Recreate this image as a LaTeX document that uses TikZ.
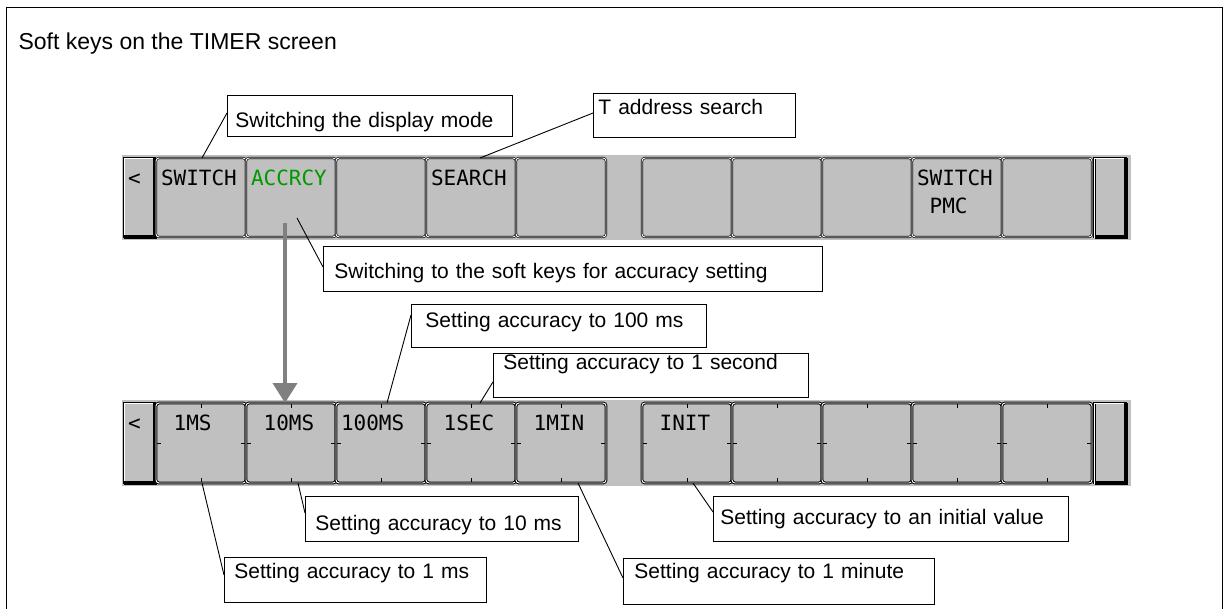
\documentclass[tikz,border=0pt]{standalone}
\usepackage{fontspec}
\setmainfont{Liberation Sans}
\newfontfamily\keyfont{DejaVu Sans Mono}
\usepackage{tikz}
\usetikzlibrary{arrows.meta}
\definecolor{keygray}{HTML}{C0C0C0}
\definecolor{accgreen}{HTML}{009900}
\definecolor{flowgray}{HTML}{808080}
\newcommand{\keygap}{\phantom{0}}

\begin{document}
\begin{tikzpicture}[x=1pt, y=-1pt,
        softkey/.style={rectangle, rounded corners=3pt, fill=keygray, draw=black,
            double=white, double distance=0.9pt, line width=0.7pt,
            text width=80pt, inner xsep=5pt, inner ysep=2pt, outer sep=0pt,
            align=left, text height=25.6pt, text depth=49.4pt,
            font=\keyfont\fontsize{21}{28}\selectfont},
        lowkey/.style={softkey, text depth=50.4pt, line width=1pt,
            path picture={\draw[black, line width=1pt]
                (path picture bounding box.north) -- ++(0pt,-5pt)
                (path picture bounding box.south) -- ++(0pt,5pt)
                (path picture bounding box.west) -- ++(5pt,0pt)
                (path picture bounding box.east) -- ++(-5pt,0pt);}},
        endkey/.style={softkey, rounded corners=0pt, text width=23pt, inner xsep=4pt},
        shade/.style={line width=4pt},
        flow/.style={draw=flowgray, line width=4pt, -{Triangle[width=24pt, length=20pt]}},
        callout/.style={draw, line width=0.9pt, fill=white, anchor=north west,
            inner ysep=0pt, align=left, font=\fontsize{21}{25}\selectfont},
        lead/.style={line width=0.9pt}
    ]
    \useasboundingbox (0,0) rectangle (1228,609);

    % FRAME
    \draw[line width=1pt] (6,615) -- (6,8) -- (1222,8) -- (1222,615);
    \node[anchor=base west, font=\fontsize{23}{28}\selectfont] (title) at (15,50)
        {Soft keys on the TIMER screen};

    % TOP SOFT KEYS
    \fill[keygray] (122,155) rectangle (1131,240);
    \node[endkey] (ltop) at (139.5,197.5) {<};
    \draw[shade] (ltop.north east) -- (ltop.south east) -- (ltop.south west);
    \node[softkey] (sw) at (201,197.5) {SWITCH};
    \node[softkey, text=accgreen] (acc) at (291,197.5) {ACCRCY};
    \node[softkey] (tk3) at (381,197.5) {};
    \node[softkey] (srch) at (471,197.5) {SEARCH};
    \node[softkey] (tk5) at (561,197.5) {};
    \node[softkey] (tk6) at (687,197.5) {};
    \node[softkey] (tk7) at (777,197.5) {};
    \node[softkey] (tk8) at (867,197.5) {};
    \node[softkey] (pmc) at (957,197.5) {SWITCH\\\phantom{S}PMC};
    \node[softkey] (tk10) at (1047,197.5) {};
    \node[endkey] (rtop) at (1110,197.5) {};
    \draw[shade] (rtop.north east) -- (rtop.south east) -- (rtop.south west);

    % BOTTOM SOFT KEYS
    \fill[keygray] (122,400) rectangle (1131,486);
    \node[endkey, text depth=50.4pt] (lbot) at (139.5,443) {<};
    \draw[shade] (lbot.north east) -- (lbot.south east) -- (lbot.south west);
    \node[lowkey] (b1) at (201,443) {\keygap 1MS};
    \node[lowkey] (b10) at (291,443) {\keygap 10MS};
    \node[lowkey] (b100) at (381,443) {100MS};
    \node[lowkey] (b1s) at (471,443) {\keygap 1SEC};
    \node[lowkey] (b1m) at (561,443) {\keygap 1MIN};
    \node[lowkey] (binit) at (687,443) {\keygap INIT};
    \node[lowkey] (bk7) at (777,443) {};
    \node[lowkey] (bk8) at (867,443) {};
    \node[lowkey] (bk9) at (957,443) {};
    \node[lowkey] (bk10) at (1047,443) {};
    \node[endkey, text depth=50.4pt] (rbot) at (1110,443) {};
    \draw[shade] (rbot.north east) -- (rbot.south east) -- (rbot.south west);

    \draw[flow] ([xshift=-6pt, yshift=14pt]acc.south) -- ([xshift=-6pt]b10.north);

    % CALLOUTS
    \node[callout, inner xsep=8pt, text width=269pt, text height=32pt, text depth=9pt]
        (tdisp) at (227,95) {Switching the display mode};
    \node[callout, inner xsep=5pt, text width=192pt, text height=21pt, text depth=23pt]
        (tsrch) at (593,93) {T address search};
    \node[callout, inner xsep=11pt, text width=477pt, text height=32pt, text depth=13pt]
        (tacc) at (323,246) {Switching to the soft keys for accuracy setting};
    \node[callout, inner xsep=14pt, text width=267pt, text height=23pt, text depth=20pt]
        (t100) at (411,304) {Setting accuracy to 100 ms};
    \node[callout, inner xsep=10pt, text width=295pt, text height=16pt, text depth=28pt]
        (t1s) at (493,353) {Setting accuracy to 1 second};
    \node[callout, inner xsep=10pt, text width=253pt, text height=34pt, text depth=11pt]
        (t10) at (305,496) {Setting accuracy to 10 ms};
    \node[callout, inner xsep=10pt, text width=242pt, text height=21pt, text depth=24pt]
        (t1) at (224,557) {Setting accuracy to 1 ms};
    \node[callout, inner xsep=11pt, text width=289pt, text height=20pt, text depth=26pt]
        (tmin) at (623,558) {Setting accuracy to 1 minute};
    \node[callout, inner xsep=7pt, text width=341pt, text height=28pt, text depth=17pt]
        (tinit) at (713,496) {Setting accuracy to an initial value};

    % LEADERS
    \draw[lead] ([xshift=1pt]sw.north) -- ([yshift=-18pt]tdisp.north west);
    \draw[lead] ([xshift=9pt]srch.north) -- ([yshift=-20pt]tsrch.north west);
    \draw[lead] ([xshift=6pt, yshift=19pt]acc.south) -- ([yshift=-21pt]tacc.north west);
    \draw[lead] ([xshift=6pt]b100.north) -- ([yshift=-11pt]t100.north west);
    \draw[lead] ([xshift=9pt]b1s.north) -- ([yshift=16pt]t1s.south west);
    \draw[lead] ([xshift=7pt]b10.south) -- ([yshift=-17pt]t10.north west);
    \draw[lead] ([xshift=1pt]b1.south) -- ([yshift=-18pt]t1.north west);
    \draw[lead] ([xshift=17pt]b1m.south) -- ([yshift=-20pt]tmin.north west);
    \draw[lead] ([xshift=6pt]binit.south) -- ([yshift=-16pt]tinit.north west);

\end{tikzpicture}
\end{document}
